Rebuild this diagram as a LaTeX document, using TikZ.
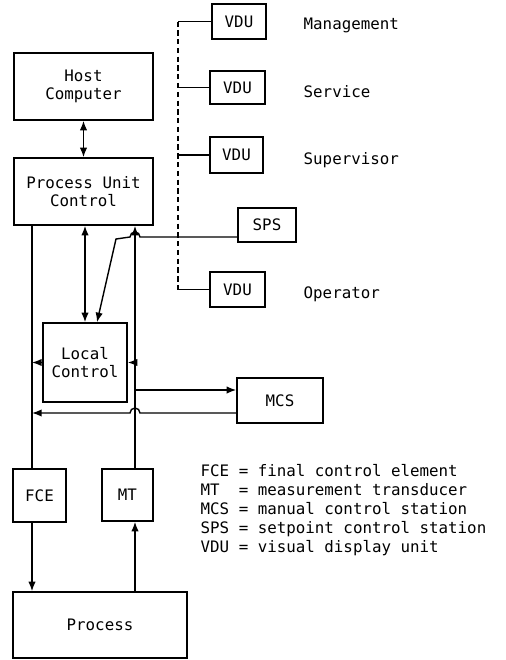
\documentclass[tikz,border=0pt]{standalone}
\usepackage{fontspec}
\setmainfont{DejaVu Sans Mono}
\usetikzlibrary{arrows.meta}

\begin{document}
\begin{tikzpicture}[x=0.02cm,y=-0.02cm,
  font=\fontsize{9}{10.5}\selectfont,
  line width=0.8pt,
  >={Latex[length=5.5pt,width=4.2pt]},
  box/.style={draw,line width=0.8pt,inner sep=0pt,align=center},
  lbl/.style={inner sep=0pt,anchor=base west}]
\useasboundingbox (0,0) rectangle (506,660);

\node[box,minimum width=2.78cm,minimum height=1.34cm] (host) at (83.5,86.5) {Host\\Computer};
\node[box,minimum width=2.78cm,minimum height=1.34cm] (puc) at (83.5,191.5) {Process Unit\\Control};
\node[box,minimum width=1.68cm,minimum height=1.58cm] (local) at (85,362.5) {Local\\Control};
\node[box,minimum width=1.06cm,minimum height=1.06cm] (fce) at (39.5,495.5) {FCE};
\node[box,minimum width=1.02cm,minimum height=1.04cm] (mt) at (127.5,495) {MT};
\node[box,minimum width=3.48cm,minimum height=1.32cm] (process) at (100,625) {Process};
\node[box,minimum width=1.72cm,minimum height=0.90cm] (mcs) at (280,400.5) {MCS};
\node[box,minimum width=1.16cm,minimum height=0.68cm] (sps) at (267,225) {SPS};

\node[box,minimum width=1.08cm,minimum height=0.70cm] (vdua) at (239,21.5) {VDU};
\node[box,minimum width=1.10cm,minimum height=0.66cm] (vdub) at (237.5,87.5) {VDU};
\node[box,minimum width=1.06cm,minimum height=0.72cm] (vduc) at (236.5,155) {VDU};
\node[box,minimum width=1.10cm,minimum height=0.70cm] (vdud) at (237.5,289.5) {VDU};

\node[lbl] (mgmt) at (303,29) {Management};
\node[lbl] (serv) at (303,97) {Service};
\node[lbl] (supv) at (303,164) {Supervisor};
\node[lbl] (oper) at (303,298) {Operator};

\coordinate (lbus) at (32,0);
\coordinate (rbus) at (135,0);
\coordinate (vbus) at (178,0);
\coordinate (hopr) at (140,0);
\coordinate (jog) at (116,239);
\coordinate (spsout) at ([yshift=-0.24cm]sps.west);
\coordinate (spsin) at ([xshift=0.24cm]local.north);
\coordinate (mcsin) at ([yshift=0.21cm]mcs.west);
\coordinate (mcsout) at ([yshift=-0.25cm]mcs.west);

\draw[<->] (host) -- (puc);
\draw[<->] (puc.south -| local) -- (local);

\draw (puc.south -| lbus) -- (fce.north -| lbus);
\draw[->] (fce.south -| lbus) -- (process.north -| lbus);
\draw[->] (process.north -| rbus) -- (mt.south -| rbus);
\draw[->] (mt.north -| rbus) -- (puc.south -| rbus);

\draw[->] (local.west) -- (local.west -| lbus);
\draw[->] (local.east -| rbus) -- (local.east);
\draw[->] (mcsin -| rbus) -- (mcsin);
\draw[->] (mcsout) -- (mcsout -| hopr) arc[start angle=0,end angle=180,radius=0.10cm] -- (mcsout -| lbus);
\draw[->] (spsout) -- (spsout -| hopr) arc[start angle=0,end angle=180,radius=0.10cm] -- (jog) -- (spsin);

\draw[dashed,dash pattern=on 3pt off 2pt] (vdua.west -| vbus) -- (vdud.west -| vbus);
\draw (vdua.west -| vbus) -- (vdua.west);
\draw (vdub.west -| vbus) -- (vdub.west);
\draw (vduc.west -| vbus) -- (vduc.west);
\draw (vdud.west -| vbus) -- (vdud.west);

\node[lbl] (lfce) at (200,476) {FCE = final control element};
\node[lbl] (lmt) at (200,495) {MT\ \ = measurement transducer};
\node[lbl] (lmcs) at (200,514) {MCS = manual control station};
\node[lbl] (lsps) at (200,533) {SPS = setpoint control station};
\node[lbl] (lvdu) at (200,552) {VDU = visual display unit};
\end{tikzpicture}
\end{document}
